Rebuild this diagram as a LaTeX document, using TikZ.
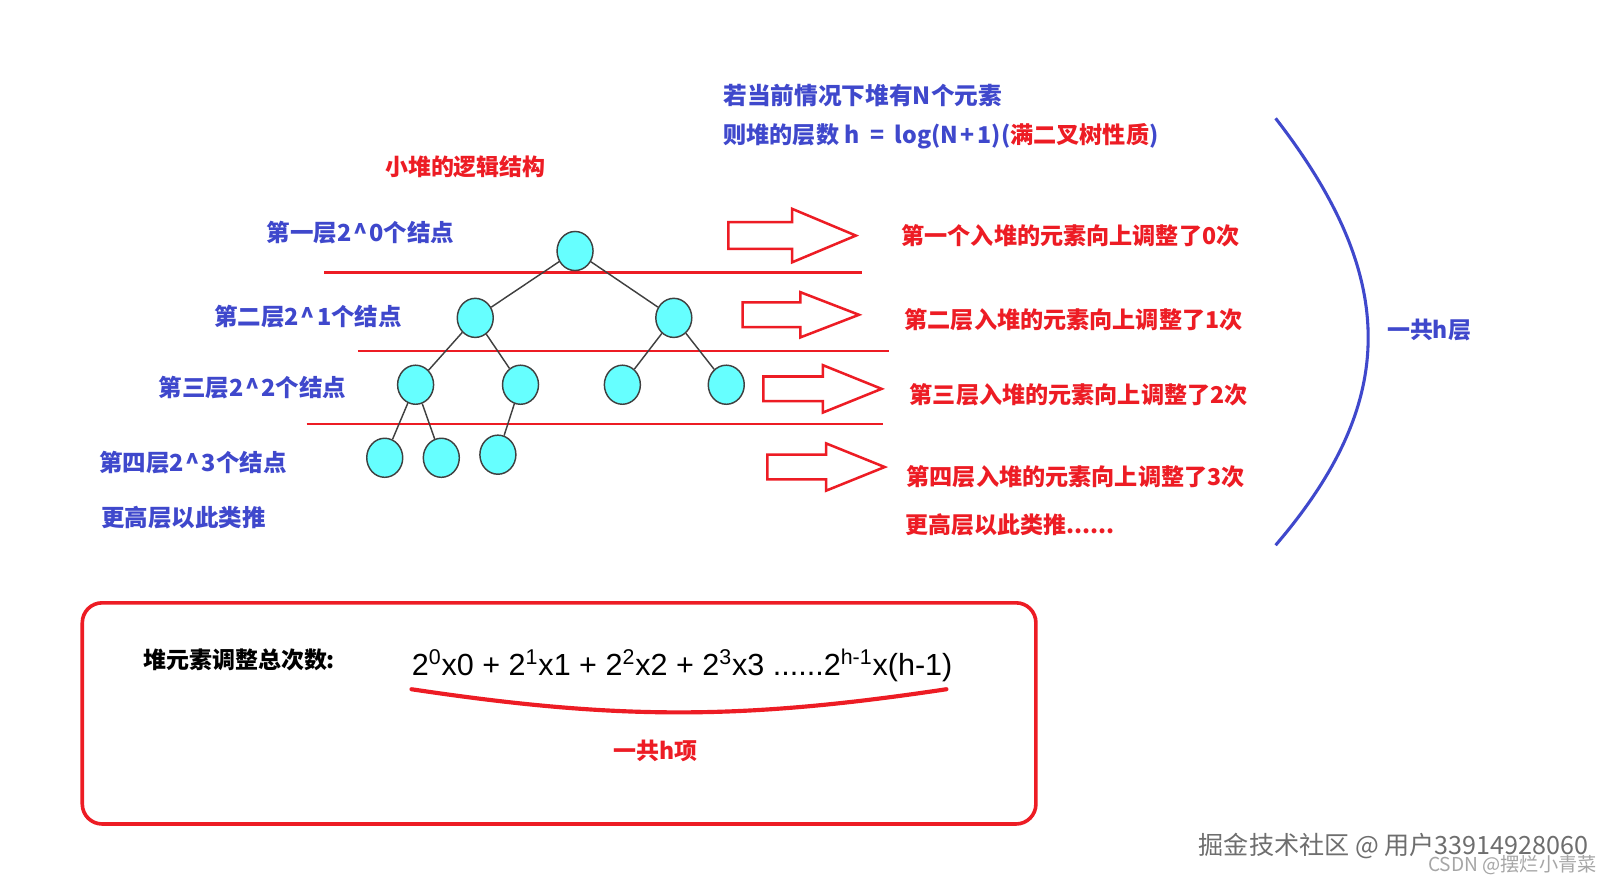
\documentclass[tikz,border=0pt]{standalone}
\usepackage{fontspec}
\setmainfont{Liberation Sans}
\newfontfamily\cjk{Noto Sans CJK SC}
\usetikzlibrary{shapes.geometric}
\definecolor{pblue}{RGB}{63,72,204}
\definecolor{pred}{RGB}{237,28,36}
\definecolor{ncyan}{RGB}{102,255,255}
\definecolor{wm}{RGB}{110,110,110}
\tikzset{
  hn/.style={ellipse, draw=black!75, fill=ncyan, minimum width=0.7cm, minimum height=0.76cm, inner sep=0pt, line width=0.8pt},
  edge/.style={draw=black!75, line width=0.8pt},
  redline/.style={draw=pred, line width=1.4pt},
  bigarrow/.style={draw=pred, line width=1.4pt, line join=miter},
  bltxt/.style={text=pblue, font=\cjk\bfseries\fontsize{13}{15}\selectfont, anchor=west, inner sep=0pt},
  rdtxt/.style={text=pred, font=\cjk\bfseries\fontsize{12.8}{15}\selectfont, anchor=west, inner sep=0pt},
  rdsmall/.style={text=pred, font=\cjk\bfseries\fontsize{12.7}{15}\selectfont, anchor=west, inner sep=0pt},
}
\newcommand{\crt}{\kern1pt\textasciicircum\kern1pt}
\begin{document}
\begin{tikzpicture}[x=0.02cm, y=-0.02cm]
\useasboundingbox (0,0) rectangle (1568,859);
\fill[white] (0,0) rectangle (1568,859);

% top blue text
\node[bltxt, font=\cjk\bfseries\fontsize{13.1}{16}\selectfont] (t1) at (703,93) {若当前情况下堆有N个元素};
\node[bltxt, font=\cjk\bfseries\fontsize{12.8}{16}\selectfont] (t2) at (703,132) {则堆的层数 h\hspace{0.45em}=\hspace{0.45em}log(N\kern1.5pt+\kern1.5pt1)(\textcolor{pred}{满二叉树性质})};
\node[rdsmall] (title) at (374,162) {小堆的逻辑结构};

% level labels
\node[bltxt] (l1) at (259,226) {第一层2\crt0个结点};
\node[bltxt] (l2) at (208,308) {第二层2\crt1个结点};
\node[bltxt] (l3) at (154,377) {第三层2\crt2个结点};
\node[bltxt] (l4) at (96,450) {第四层2\crt3个结点};
\node[bltxt] (l5) at (98,503) {更高层以此类推};

% red separator lines
\draw[redline] (315,265) -- (838,265);
\draw[redline] (348,341) -- (864,341);
\draw[redline] (298,412) -- (858,412);

% tree
\node[hn] (n1) at (559,244) {};
\node[hn] (n2) at (462,309) {};
\node[hn] (n3) at (655,309) {};
\node[hn] (n4) at (404,374) {};
\node[hn] (n5) at (506,374) {};
\node[hn] (n6) at (605,374) {};
\node[hn] (n7) at (706,374) {};
\node[hn] (n8) at (374,445) {};
\node[hn] (n9) at (429,445) {};
\node[hn] (n10) at (484,442) {};
\draw[edge] (n1) -- (n2); \draw[edge] (n1) -- (n3);
\draw[edge] (n2) -- (n4); \draw[edge] (n2) -- (n5);
\draw[edge] (n3) -- (n6); \draw[edge] (n3) -- (n7);
\draw[edge] (n4) -- (n8); \draw[edge] (n4) -- (n9);
\draw[edge] (n5) -- (n10);

% big arrows
\draw[bigarrow] (708,216) -- (770,216) -- (770,203) -- (832,229) -- (770,255) -- (770,242) -- (708,242) -- cycle;
\draw[bigarrow] (722,294) -- (778,294) -- (778,284) -- (835,306) -- (778,328) -- (778,318) -- (722,318) -- cycle;
\draw[bigarrow] (742,366) -- (800,366) -- (800,355) -- (857,378) -- (800,401) -- (800,390) -- (742,390) -- cycle;
\draw[bigarrow] (746,442) -- (803,442) -- (803,431) -- (860,454) -- (803,477) -- (803,466) -- (746,466) -- cycle;

% right red texts
\node[rdtxt] (r1) at (876,229) {第一个入堆的元素向上调整了0次};
\node[rdtxt] (r2) at (879,311) {第二层入堆的元素向上调整了1次};
\node[rdtxt] (r3) at (884,384) {第三层入堆的元素向上调整了2次};
\node[rdtxt] (r4) at (881,463) {第四层入堆的元素向上调整了3次};
\node[rdsmall] (r5) at (880,510) {更高层以此类推......};

% blue bracket
\draw[pblue, line width=1.7pt] (1240,115) .. controls (1360,270) and (1360,390) .. (1240,530);
\node[bltxt, font=\cjk\bfseries\fontsize{12.7}{15}\selectfont] (hl) at (1348,321) {一共h层};

% bottom box
\draw[pred, line width=2pt, rounded corners=11pt] (80,586) rectangle (1007,801);
\node[anchor=west, inner sep=0pt, font=\cjk\bfseries\fontsize{12.7}{15}\selectfont] (sum) at (139,641) {堆元素调整总次数:};
\node[anchor=base west, inner sep=0pt, font=\fontsize{16.9}{20}\selectfont] (fm) at (400,657)
  {2\textsuperscript{0}x0 + 2\textsuperscript{1}x1 + 2\textsuperscript{2}x2 + 2\textsuperscript{3}x3 ......2\textsuperscript{h-1}x(h-1)};
\draw[pred, line width=2.3pt, line cap=round] (400,670) .. controls (600,700) and (720,700) .. (920,670);
\node[rdsmall] (hx) at (596,730) {一共h项};

% watermark
\node[anchor=west, inner sep=0pt, text=wm, font=\cjk\fontsize{13.9}{15}\selectfont] (w1) at (1165,822) {掘金技术社区 @ 用户33914928060};
\node[anchor=west, inner sep=0pt, text=black!35, font=\cjk\fontsize{10.6}{12}\selectfont] (w2) at (1388,841) {CSDN @摆烂小青菜};
\end{tikzpicture}
\end{document}
